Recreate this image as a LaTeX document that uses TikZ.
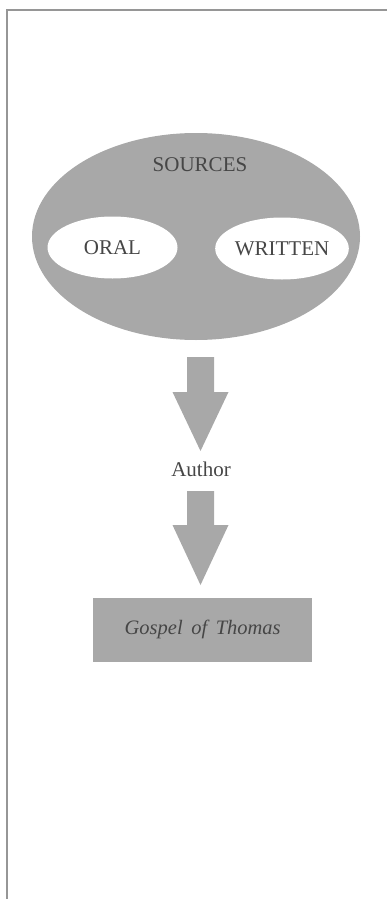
\documentclass[tikz,border=0pt]{standalone}
\usepackage{fontspec}
\setmainfont{Liberation Serif}
\definecolor{fillgray}{RGB}{168,168,168}
\definecolor{txtgray}{RGB}{70,70,70}
\definecolor{framegray}{RGB}{150,150,150}
\usetikzlibrary{shapes.geometric}
\tikzset{
  outer/.style={ellipse, fill=fillgray, minimum width=328pt, minimum height=207pt, inner sep=0pt},
  inner/.style={ellipse, fill=white, minimum width=130pt, minimum height=62pt, inner sep=0pt, text=txtgray, font=\fontsize{21}{25}\selectfont},
  lbl/.style={text=txtgray, font=\fontsize{21}{25}\selectfont, inner sep=0pt},
  bigarrow/.style={fill=fillgray},
  bookbox/.style={rectangle, fill=fillgray, minimum width=219pt, minimum height=64pt, inner sep=0pt, text=txtgray, font=\fontsize{20.5}{24}\selectfont\itshape}
}
\begin{document}
\begin{tikzpicture}[x=1pt,y=-1pt]
\useasboundingbox (0,0) rectangle (387,899);
\draw[framegray, line width=1.5pt] (7,899) -- (7,10) -- (387,10);
\node[outer] (src) at (196,236.5) {};
\node[lbl] (srct) at (200,165) {SOURCES};
\node[inner] (oral) at (112.5,247.5) {ORAL};
\node[inner] (writ) at (282,248.5) {WRITTEN};
\node[lbl, anchor=base] (auth) at (201,476) {Author};
\node[bookbox] (gos) at (202.7,629.5) {Gospel \,of \,Thomas};
% block arrows
\coordinate (t1) at (200.5,357);
\coordinate (p1) at (200.5,451);
\coordinate (t2) at (200.5,491);
\coordinate (p2) at (200.5,585);
\fill[bigarrow] ([xshift=-13.5pt]t1) -- ([xshift=13.5pt]t1) -- ([xshift=13.5pt,yshift=59pt]p1) -- ([xshift=28pt,yshift=59pt]p1) -- (p1) -- ([xshift=-28pt,yshift=59pt]p1) -- ([xshift=-13.5pt,yshift=59pt]p1) -- cycle;
\fill[bigarrow] ([xshift=-13.5pt]t2) -- ([xshift=13.5pt]t2) -- ([xshift=13.5pt,yshift=60pt]p2) -- ([xshift=28pt,yshift=60pt]p2) -- (p2) -- ([xshift=-28pt,yshift=60pt]p2) -- ([xshift=-13.5pt,yshift=60pt]p2) -- cycle;
\end{tikzpicture}
\end{document}
